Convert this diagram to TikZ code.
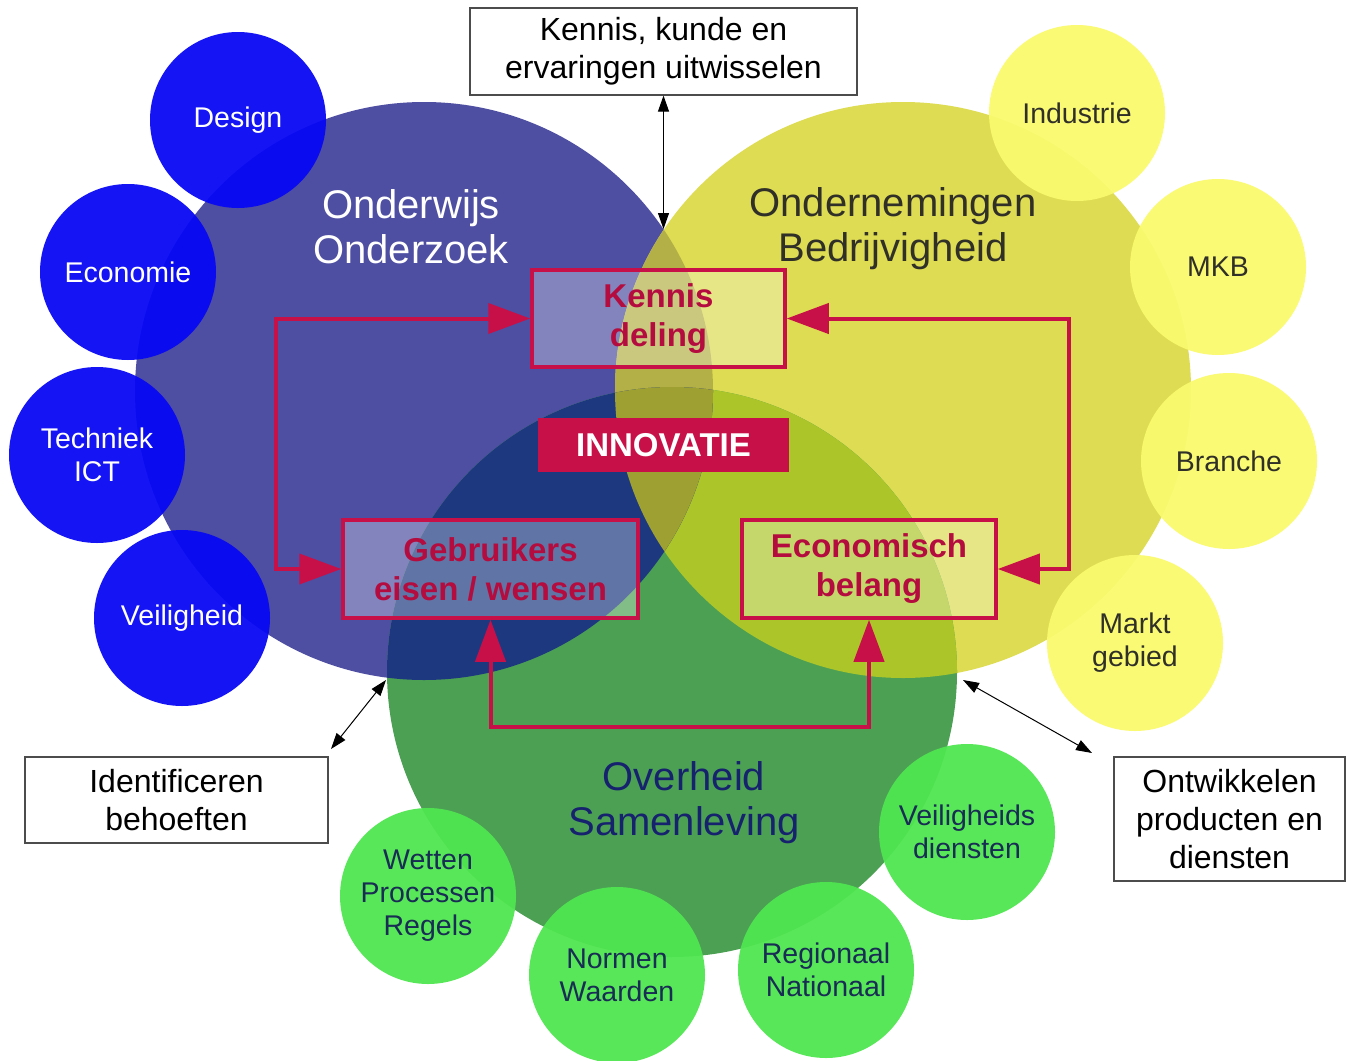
\documentclass[tikz,border=0pt]{standalone}
\usepackage{fontspec}
\setmainfont{Liberation Sans}
\usetikzlibrary{arrows.meta}
\definecolor{bluebig}{RGB}{78,78,162}
\definecolor{yellowbig}{RGB}{222,220,82}
\definecolor{greenbig}{RGB}{76,160,84}
\definecolor{olivemix}{RGB}{180,176,72}
\definecolor{navymix}{RGB}{30,56,128}
\definecolor{limemix}{RGB}{172,198,42}
\definecolor{triplemix}{RGB}{158,160,50}
\definecolor{blueball}{RGB}{8,8,245}
\definecolor{yellowball}{RGB}{250,250,110}
\definecolor{greenball}{RGB}{80,230,80}
\definecolor{crimson}{RGB}{200,16,72}
\definecolor{crimsontext}{RGB}{180,12,62}
\definecolor{darktext}{RGB}{48,48,40}
\definecolor{navytext}{RGB}{22,34,110}
\definecolor{greentext}{RGB}{24,44,84}
\tikzset{
    bubble/.style={circle,minimum size=176pt,inner sep=0pt,fill opacity=0.95,text opacity=1,align=center,font=\fontsize{28.5}{33}\selectfont},
    bigtext/.style={align=center,font=\fontsize{40}{45}\selectfont},
    redbox/.style={draw=crimson,line width=3.5pt,fill=white,fill opacity=0.3,text opacity=1,text=crimsontext,align=center,inner sep=0pt,font=\bfseries\fontsize{33}{39}\selectfont},
    labelbox/.style={draw=black!70,line width=1.2pt,fill=white,align=center,inner sep=0pt,font=\fontsize{32}{38}\selectfont},
    redarrow/.style={draw=crimson,line width=4pt,{Triangle[length=42pt,width=30pt]}-{Triangle[length=42pt,width=30pt]}},
    blackarrow/.style={draw=black,line width=1pt,{Triangle[length=16pt,width=11pt]}-{Triangle[length=16pt,width=11pt]}}
}
\begin{document}
\begin{tikzpicture}[x=1pt,y=-1pt]
    \useasboundingbox (0,0) rectangle (1346,1060);
    \fill[white] (0,0) rectangle (1346,1060);
    \coordinate (ow) at (424,391);
    \coordinate (ond) at (903,390);
    \coordinate (ov) at (672,672);
    \fill[bluebig] (ow) circle[radius=289];
    \fill[yellowbig] (ond) circle[radius=288];
    \fill[greenbig] (ov) circle[radius=285];
    \begin{scope}
        \clip (ond) circle[radius=288];
        \fill[limemix] (ov) circle[radius=285];
    \end{scope}
    \begin{scope}
        \clip (ow) circle[radius=289];
        \fill[olivemix] (ond) circle[radius=288];
        \fill[navymix] (ov) circle[radius=285];
        \clip (ond) circle[radius=288];
        \fill[triplemix] (ov) circle[radius=285];
    \end{scope}
    \node[bigtext,text=white] (owlabel) at (411,227) {Onderwijs\\Onderzoek};
    \node[bigtext,text=darktext] (ondlabel) at (893,229) {Ondernemingen\\Bedrijvigheid};
    \node[bigtext,text=navytext] (ovlabel) at (684,803) {Overheid\\Samenleving};
    \foreach \px/\py/\nm/\txt in {238/120/design/Design,128/272/economie/Economie,97/455/techniek/{Techniek\\ICT},182/618/veiligheid/Veiligheid}{
        \node[bubble,fill=blueball,text=white] (\nm) at (\px,\py) {\txt};
    }
    \foreach \px/\py/\nm/\txt in {1077/113/industrie/Industrie,1218/267/mkb/MKB,1229/461/branche/Branche,1135/643/markt/{Markt\\gebied}}{
        \node[bubble,fill=yellowball,text=darktext] (\nm) at (\px,\py) {\txt};
    }
    \foreach \px/\py/\nm/\txt in {967/832/diensten/{Veiligheids\\diensten},826/970/regionaal/{Regionaal\\Nationaal},617/975/normen/{Normen\\Waarden},428/896/wetten/{Wetten\\Processen\\Regels}}{
        \node[bubble,fill=greenball,text=greentext] (\nm) at (\px,\py) {\txt};
    }
    \node[redbox,minimum width=253pt,minimum height=97pt] (kennis) at (658.5,318.5) {Kennis\\deling};
    \node[redbox,minimum width=295pt,minimum height=98pt] (gebruikers) at (490.5,569) {Gebruikers\\eisen / wensen};
    \node[redbox,minimum width=254pt,minimum height=98pt] (economisch) at (869,569) {Economisch\\belang};
    \node[fill=crimson,minimum width=251pt,minimum height=54pt,inner sep=0pt,text=white,font=\bfseries\fontsize{33}{38}\selectfont] (innovatie) at (663.5,445) {INNOVATIE};
    \draw[redarrow] (kennis.west) -- ++(-254,0) |- (gebruikers.west);
    \draw[redarrow] (kennis.east) -- ++(282,0) |- (economisch.east);
    \draw[redarrow] (gebruikers.south) -- ++(0,107) -| (economisch.south);
    \node[labelbox,minimum width=387pt,minimum height=87pt] (kunde) at (663.5,51.5) {Kennis, kunde en\\ervaringen uitwisselen};
    \node[labelbox,minimum width=303pt,minimum height=86pt] (behoeften) at (176.5,800) {Identificeren\\behoeften};
    \node[labelbox,minimum width=231pt,minimum height=124pt] (ontwikkelen) at (1229.5,819) {Ontwikkelen\\producten en\\diensten};
    \coordinate (lenstop) at (663.5,229);
    \coordinate (behoeftenA) at (331,749);
    \coordinate (behoeftenB) at (386,680);
    \coordinate (ontwikkelenA) at (1092,753);
    \coordinate (ontwikkelenB) at (963,680);
    \draw[blackarrow] (kunde.south) -- (lenstop);
    \draw[blackarrow] (behoeftenA) -- (behoeftenB);
    \draw[blackarrow] (ontwikkelenA) -- (ontwikkelenB);
\end{tikzpicture}
\end{document}
